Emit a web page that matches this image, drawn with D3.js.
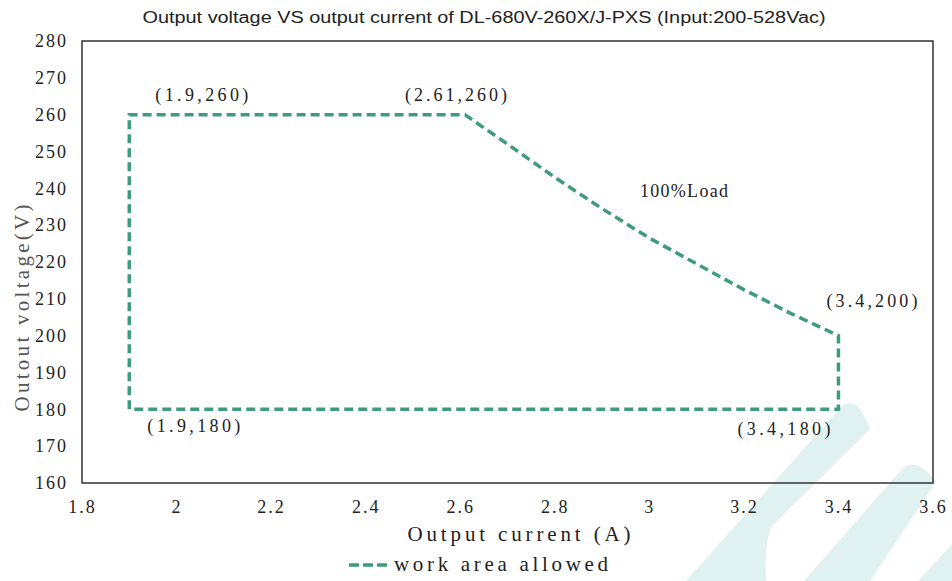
<!DOCTYPE html>
<html>
<head>
<meta charset="utf-8">
<script src="https://cdn.jsdelivr.net/npm/d3@7"></script>
<style>
  body { margin: 0; background: #fff; }
</style>
</head>
<body>
<svg id="chart"></svg>
<script>
// boundary of the allowed work area, walked round from the lower-left corner
var currents = [1.9, 1.9, 2.61, 2.7, 2.8, 2.9, 3.0, 3.1, 3.2, 3.3, 3.4, 3.4, 1.9];
var voltages = [180, 260, 260, 252, 243, 234.5, 226.5, 219.5, 212.5, 206, 200, 180, 180];

var xTicks = [1.8, 2, 2.2, 2.4, 2.6, 2.8, 3, 3.2, 3.4, 3.6];
var yTicks = [160, 170, 180, 190, 200, 210, 220, 230, 240, 250, 260, 270, 280];

var pointLabels = ["(1.9,260)", "(2.61,260)", "(3.4,200)", "(1.9,180)", "(3.4,180)", "100%Load"];
var labelAt = [[1.9, 260], [2.61, 260], [3.4, 200], [1.9, 180], [3.4, 180], [3.05, 240]];

var width = 952,
    height = 581;
var margin = {top: 41, right: 19, bottom: 98, left: 82};
var lineColor = "#3f9b7d";
var serif = "'Liberation Serif', 'DejaVu Serif', serif";

var svg = d3.select("#chart")
    .attr("width", width)
    .attr("height", height);

// faint watermark stripes in the lower right
var wm = svg.append("g").attr("fill", "#e0f1f1");
wm.append("path").attr("d", "M686,581 L842,406 Q857,394 870,429 L772,526 Q764,542 766,581 Z");
wm.append("path").attr("d", "M804,581 L902,469 Q917,456 936,482 L870,581 Z");
wm.append("path").attr("d", "M918,581 L952,544 L952,581 Z");

var x = d3.scaleLinear().domain([1.8, 3.6]).range([margin.left, width - margin.right]);
var y = d3.scaleLinear().domain([160, 280]).range([height - margin.bottom, margin.top]);

// title
svg.append("text")
    .attr("x", 484)
    .attr("y", 23)
    .attr("text-anchor", "middle")
    .attr("textLength", 683)
    .attr("lengthAdjust", "spacingAndGlyphs")
    .style("font-family", "'Liberation Sans', Arial, sans-serif")
    .style("font-size", "16px")
    .attr("fill", "#222")
    .text("Output voltage VS output current of DL-680V-260X/J-PXS  (Input:200-528Vac)");

// axes, ticks hidden, labels only
var xAxis = svg.append("g")
    .attr("transform", "translate(0," + (height - margin.bottom) + ")")
    .call(d3.axisBottom(x).tickValues(xTicks).tickSize(0).tickPadding(17).tickFormat(d3.format("")));
var yAxis = svg.append("g")
    .attr("transform", "translate(" + margin.left + ",0)")
    .call(d3.axisLeft(y).tickValues(yTicks).tickSize(0).tickPadding(14));

[xAxis, yAxis].forEach(function(a){
    a.select(".domain").remove();
    a.selectAll("text")
        .style("font-family", serif)
        .style("font-size", "18px")
        .style("letter-spacing", "2px")
        .attr("fill", "#222");
});

// frame
svg.append("rect")
    .attr("x", margin.left)
    .attr("y", margin.top)
    .attr("width", width - margin.left - margin.right)
    .attr("height", height - margin.top - margin.bottom)
    .attr("fill", "none")
    .attr("stroke", "#333")
    .attr("stroke-width", 1.5);

// axis titles
svg.append("text")
    .attr("x", 519)
    .attr("y", 541)
    .attr("text-anchor", "middle")
    .attr("textLength", 223)
    .attr("lengthAdjust", "spacing")
    .style("font-family", serif)
    .style("font-size", "21px")
    .attr("fill", "#222")
    .text("Output current (A)");

svg.append("text")
    .attr("transform", "translate(29,308) rotate(-90)")
    .attr("text-anchor", "middle")
    .attr("textLength", 207)
    .attr("lengthAdjust", "spacing")
    .style("font-family", serif)
    .style("font-size", "21px")
    .attr("fill", "#555")
    .text("Outout voltage(V)");

// work area boundary
var pts = currents.map(function(c, i){ return [c, voltages[i]]; });
var line = d3.line()
    .x(function(d){ return x(d[0]); })
    .y(function(d){ return y(d[1]); });

svg.append("path")
    .datum(pts)
    .attr("d", line)
    .attr("fill", "none")
    .attr("stroke", lineColor)
    .attr("stroke-width", 3.5)
    .attr("stroke-dasharray", "9,5");

// point labels
var offsets = [[26, -20], [-60, -20], [-12, -35], [18, 16], [-101, 19], [-33, 2]];
var lens = [93, 102, 91, 93, 93, 88];
svg.selectAll(".plabel")
    .data(pointLabels)
    .enter().append("text")
    .attr("class", "plabel")
    .attr("x", function(d, i){ return x(labelAt[i][0]) + offsets[i][0]; })
    .attr("y", function(d, i){ return y(labelAt[i][1]) + offsets[i][1]; })
    .attr("dy", "0.35em")
    .attr("textLength", function(d, i){ return lens[i]; })
    .attr("lengthAdjust", "spacing")
    .style("font-family", serif)
    .style("font-size", "18px")
    .attr("fill", "#222")
    .text(function(d){ return d; });

// legend
svg.append("line")
    .attr("x1", 349).attr("x2", 391)
    .attr("y1", 565).attr("y2", 565)
    .attr("stroke", lineColor)
    .attr("stroke-width", 3.5)
    .attr("stroke-dasharray", "10,4");
svg.append("text")
    .attr("x", 394)
    .attr("y", 571)
    .attr("textLength", 214)
    .attr("lengthAdjust", "spacing")
    .style("font-family", serif)
    .style("font-size", "21px")
    .attr("fill", "#222")
    .text("work area allowed");
</script>
</body>
</html>
